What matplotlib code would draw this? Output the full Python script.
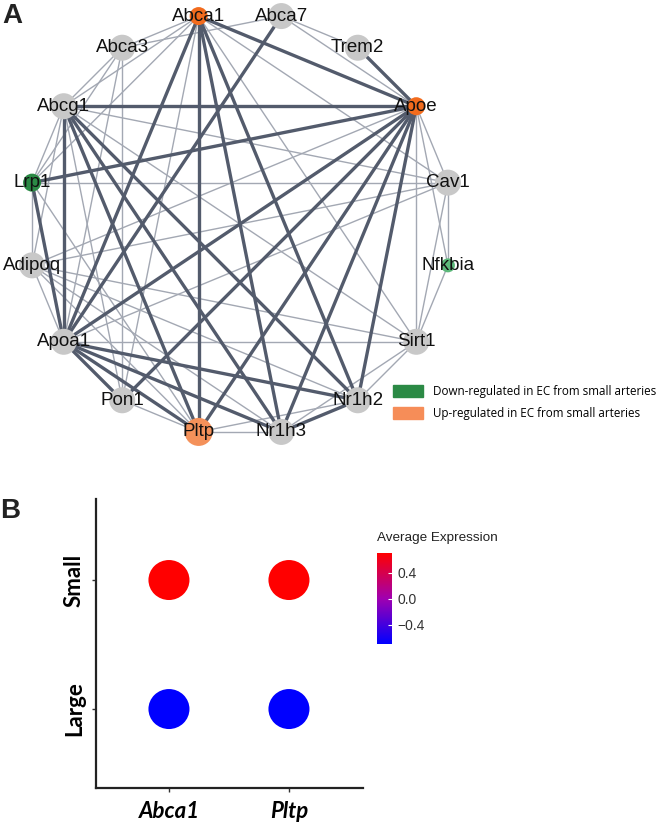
import numpy as np
import matplotlib
matplotlib.use("Agg")
import matplotlib.pyplot as plt
from matplotlib.patches import Circle, Ellipse, Patch
from matplotlib.colors import LinearSegmentedColormap, Normalize

# ---- panel A data: gene network (circular layout, counter-clockwise from Abca7)
genes = ["Abca7", "Abca1", "Abca3", "Abcg1", "Lrp1", "Adipoq", "Apoa1", "Pon1",
         "Pltp", "Nr1h3", "Nr1h2", "Sirt1", "Nfkbia", "Cav1", "Apoe", "Trem2"]
gene_status = {"Abca1": "up", "Apoe": "up", "Pltp": "up_light",
               "Lrp1": "down", "Nfkbia": "down_light"}

strong_edges = [
    ("Abca1", "Apoe"), ("Abca1", "Apoa1"), ("Abca1", "Pltp"), ("Abca1", "Nr1h3"),
    ("Abca1", "Nr1h2"), ("Abca7", "Apoa1"), ("Trem2", "Apoe"),
    ("Apoe", "Abcg1"), ("Apoe", "Lrp1"), ("Apoe", "Apoa1"), ("Apoe", "Pon1"),
    ("Apoe", "Pltp"), ("Apoe", "Nr1h3"), ("Apoe", "Nr1h2"),
    ("Abcg1", "Apoa1"), ("Abcg1", "Pltp"), ("Abcg1", "Nr1h3"), ("Abcg1", "Nr1h2"),
    ("Lrp1", "Apoa1"), ("Apoa1", "Pltp"), ("Apoa1", "Nr1h3"), ("Apoa1", "Nr1h2"),
    ("Apoa1", "Pon1"), ("Nr1h3", "Nr1h2"),
]
weak_edges = [
    ("Abca1", "Abca3"), ("Abca1", "Abcg1"), ("Abca1", "Lrp1"), ("Abca1", "Sirt1"),
    ("Abca1", "Cav1"), ("Abca1", "Pon1"),
    ("Abca7", "Abca3"), ("Abca7", "Apoe"), ("Abca7", "Trem2"),
    ("Apoe", "Adipoq"), ("Apoe", "Sirt1"), ("Apoe", "Cav1"), ("Apoe", "Nfkbia"),
    ("Abcg1", "Cav1"), ("Abcg1", "Sirt1"), ("Abcg1", "Lrp1"), ("Abcg1", "Abca3"),
    ("Abcg1", "Adipoq"), ("Abcg1", "Pon1"),
    ("Lrp1", "Cav1"), ("Lrp1", "Adipoq"), ("Lrp1", "Abca3"), ("Lrp1", "Pltp"),
    ("Adipoq", "Cav1"), ("Adipoq", "Nr1h2"), ("Adipoq", "Sirt1"), ("Adipoq", "Apoa1"),
    ("Adipoq", "Pltp"), ("Adipoq", "Nr1h3"),
    ("Apoa1", "Cav1"), ("Apoa1", "Sirt1"), ("Apoa1", "Abca3"),
    ("Pon1", "Pltp"), ("Pon1", "Abca3"),
    ("Pltp", "Nr1h3"), ("Pltp", "Nr1h2"), ("Nr1h3", "Sirt1"), ("Nr1h2", "Sirt1"),
    ("Sirt1", "Nfkbia"), ("Sirt1", "Cav1"), ("Nfkbia", "Cav1"),
]

legend_labels = ["Down-regulated in EC from small arteries",
                 "Up-regulated in EC from small arteries"]

# ---- panel B data: dot plot
dot_genes = ["Abca1", "Pltp"]
groups = ["Large", "Small"]
avg_expr = {"Abca1": [-0.7, 0.7], "Pltp": [-0.7, 0.7]}

W, H = 666, 827
fig = plt.figure(figsize=(W / 100, H / 100), dpi=100)

# network drawn on a pixel-unit overlay axes
net = fig.add_axes([0, 0, 1, 1])
net.set_xlim(0, W)
net.set_ylim(H, 0)
net.axis("off")

cx, cy, r = 240, 224, 212
angles = np.deg2rad(78.75 + 22.5 * np.arange(len(genes)))
pos = {g: (cx + r * np.cos(a), cy - r * np.sin(a)) for g, a in zip(genes, angles)}

for a, b in weak_edges:
    (x1, y1), (x2, y2) = pos[a], pos[b]
    net.plot([x1, x2], [y1, y2], color="#a3a8b3", lw=1.0, zorder=1,
             solid_capstyle="butt")
for a, b in strong_edges:
    (x1, y1), (x2, y2) = pos[a], pos[b]
    net.plot([x1, x2], [y1, y2], color="#535b6c", lw=2.4, zorder=2,
             solid_capstyle="butt")

node_style = {
    None: ("#c8c8c8", 13),
    "up": ("#f26b1d", 9),
    "up_light": ("#f4915a", 14),
    "down": ("#2b8a45", 9),
    "down_light": ("#5cb87a", 7),
}
for g in genes:
    col, rad = node_style[gene_status.get(g)]
    x, y = pos[g]
    net.add_patch(Circle((x, y), rad, color=col, zorder=3, lw=0))
    net.text(x, y, g, ha="center", va="center", fontsize=13.5,
             family="Liberation Sans", color="#111111", zorder=4)

net.text(2, 16, "A", fontsize=20, fontweight="bold", family="Liberation Sans",
         va="center", color="#222222")
net.text(0, 511, "B", fontsize=20, fontweight="bold", family="Liberation Sans",
         va="center", color="#222222")

handles = [Patch(color="#2b8a45"), Patch(color="#f68d58")]
net.legend(handles, legend_labels, loc="upper left", bbox_to_anchor=(393, 385),
           bbox_transform=net.transData, frameon=False, borderpad=0,
           borderaxespad=0, handlelength=2.6, handleheight=1.25,
           handletextpad=0.8, labelspacing=0.75,
           prop={"family": "Open Sans", "size": 8.4})

# dot plot
cmap = LinearSegmentedColormap.from_list("expr", ["#0000ff", "#a000b0", "#ff0000"])
norm = Normalize(-0.7, 0.7)

ax = fig.add_axes([96 / W, 1 - 788 / H, (363 - 96) / W, (788 - 499) / H])
for i, g in enumerate(dot_genes):
    for j, grp in enumerate(groups):
        ax.add_patch(Ellipse((i + 1, j + 1), 0.342, 0.31,
                             color=cmap(norm(avg_expr[g][j])), lw=0))
ax.set_xlim(0.392, 2.617)
ax.set_ylim(0.388, 2.628)
ax.set_xticks([1, 2])
ax.set_xticklabels(dot_genes, fontsize=16, fontweight="bold", fontstyle="italic",
                   family="Lato")
ax.set_yticks([1, 2])
ax.set_yticklabels(groups, fontsize=16, fontweight="bold", family="Lato",
                   rotation=90, va="center")
ax.tick_params(length=3, width=1, color="#333333")
ax.tick_params(axis="x", pad=6)
ax.tick_params(axis="y", pad=5)
for s in ["top", "right"]:
    ax.spines[s].set_visible(False)
for s in ["left", "bottom"]:
    ax.spines[s].set_linewidth(1.6)
    ax.spines[s].set_color("#222222")

cax = fig.add_axes([377 / W, 1 - 644 / H, 15 / W, 91 / H])
sm = plt.cm.ScalarMappable(norm=norm, cmap=cmap)
cb = fig.colorbar(sm, cax=cax)
cb.outline.set_visible(False)
cb.set_ticks([-0.4, 0.0, 0.4])
cb.set_ticklabels(["\u22120.4", "0.0", "0.4"])
cax.tick_params(length=3, width=0.8, color="white", direction="in",
                labelsize=10, labelcolor="#333333", pad=4)
for t in cax.get_yticklabels():
    t.set_family("Liberation Sans")
cax.set_title("Average Expression", fontsize=9.7, family="Liberation Sans",
              loc="left", pad=9, color="#222222")

fig.savefig("out.png", dpi=100)
